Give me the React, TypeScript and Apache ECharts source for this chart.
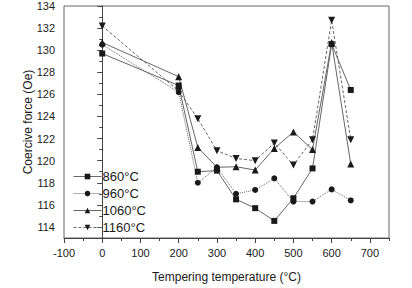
import React, { useEffect, useRef } from "react";
import * as echarts from "echarts";

// Tempering temperature (°C)
const temps = [0, 200, 250, 300, 350, 400, 450, 500, 550, 600, 650];

// Coercive force (Oe) for each quenching temperature
const hc860 = [129.7, 126.8, 119.0, 119.1, 116.5, 115.7, 114.55, 116.6, 119.3, 130.55, 126.4];
const hc960 = [130.5, 126.2, 118.0, 119.4, 117.0, 117.35, 118.4, 116.3, 116.3, 117.4, 116.4];
const hc1060 = [130.7, 127.6, 121.2, 119.4, 119.45, 119.15, 121.1, 122.6, 121.0, 130.7, 119.7];
const hc1160 = [132.2, 126.3, 123.8, 120.9, 120.2, 120.0, 121.6, 119.6, 121.9, 132.7, 121.9];

const seriesNames = ["860°C", "960°C", "1060°C", "1160°C"];

const xMajorTicks = [-100, 0, 100, 200, 300, 400, 500, 600, 700];
const xMinorTicks = [-50, 50, 150, 250, 350, 450, 550, 650, 750];
const yMajorTicks = [114, 116, 118, 120, 122, 124, 126, 128, 130, 132, 134];
const yMinorTicks = [113, 115, 117, 119, 121, 123, 125, 127, 129, 131, 133];

const FONT = "Liberation Sans, Arial, sans-serif";
const INK = "#1a1a1a";
const AXIS = "#444";
const LINE = "#666";

function pairs(values: number[]): number[][] {
  return temps.map((t, i) => [t, values[i]]);
}

export default function App() {
  const ref = useRef<HTMLDivElement>(null);

  useEffect(() => {
    if (!ref.current) return;
    const chart = echarts.init(ref.current, undefined, { renderer: "svg" });

    const baseX = {
      type: "value" as const,
      min: -100,
      max: 750,
      splitLine: { show: false },
    };
    const baseY = {
      type: "value" as const,
      min: 113,
      max: 134,
      splitLine: { show: false },
    };

    const line = (
      name: string,
      data: number[],
      symbol: string,
      size: number,
      type: any,
      rotate = 0
    ) => ({
      name,
      type: "line" as const,
      data: pairs(data),
      symbol,
      symbolSize: size,
      symbolRotate: rotate,
      showSymbol: true,
      itemStyle: { color: INK },
      lineStyle: { color: LINE, width: 1, type },
      z: 3,
    });

    chart.setOption({
      animation: false,
      backgroundColor: "#fff",
      grid: {
        left: 64,
        right: 23,
        top: 6,
        bottom: 40,
        show: true,
        borderColor: "#666",
        borderWidth: 1,
      },
      legend: {
        orient: "vertical",
        left: 68,
        top: 165,
        itemWidth: 28,
        itemHeight: 7,
        itemGap: 4,
        data: seriesNames,
        lineStyle: { width: 1 },
        textStyle: { fontFamily: FONT, fontSize: 13, color: INK, padding: [0, 0, 0, -4] },
      },
      xAxis: [
        {
          ...baseX,
          name: "Tempering temperature (°C)",
          nameLocation: "middle",
          nameGap: 33,
          nameMoveOverlap: false,
          nameTextStyle: { fontFamily: FONT, fontSize: 12, color: INK },
          axisLine: { lineStyle: { color: AXIS } },
          axisTick: { customValues: xMajorTicks, length: 5, lineStyle: { color: AXIS } },
          axisLabel: {
            customValues: xMajorTicks,
            fontFamily: FONT,
            fontSize: 11,
            color: INK,
            margin: 9,
          },
        },
        {
          ...baseX,
          position: "bottom",
          axisLine: { show: false },
          axisTick: { customValues: xMinorTicks, length: 3, lineStyle: { color: AXIS } },
          axisLabel: { show: false },
        },
      ],
      yAxis: [
        {
          ...baseY,
          name: "Coercive force (Oe)",
          nameLocation: "middle",
          nameGap: 30,
          nameMoveOverlap: false,
          nameTextStyle: { fontFamily: FONT, fontSize: 12, color: INK },
          axisLine: { show: true, lineStyle: { color: AXIS } },
          axisTick: { show: true, customValues: yMajorTicks, length: 5, lineStyle: { color: AXIS } },
          axisLabel: {
            customValues: yMajorTicks,
            fontFamily: FONT,
            fontSize: 11,
            color: INK,
            margin: 9,
          },
        },
        {
          ...baseY,
          position: "left",
          axisLine: { show: false },
          axisTick: { show: true, customValues: yMinorTicks, length: 3, lineStyle: { color: AXIS } },
          axisLabel: { show: false },
        },
      ],
      series: [
        line(seriesNames[0], hc860, "rect", 6, "solid"),
        line(seriesNames[1], hc960, "circle", 6, "dotted"),
        line(seriesNames[2], hc1060, "triangle", 7, "solid"),
        line(seriesNames[3], hc1160, "triangle", 7, [3, 2], 180),
      ],
    });

    return () => chart.dispose();
  }, []);

  return (
    <div
      ref={ref}
      style={{ position: "fixed", left: 0, top: 0, width: 412, height: 288, background: "#fff" }}
    />
  );
}
